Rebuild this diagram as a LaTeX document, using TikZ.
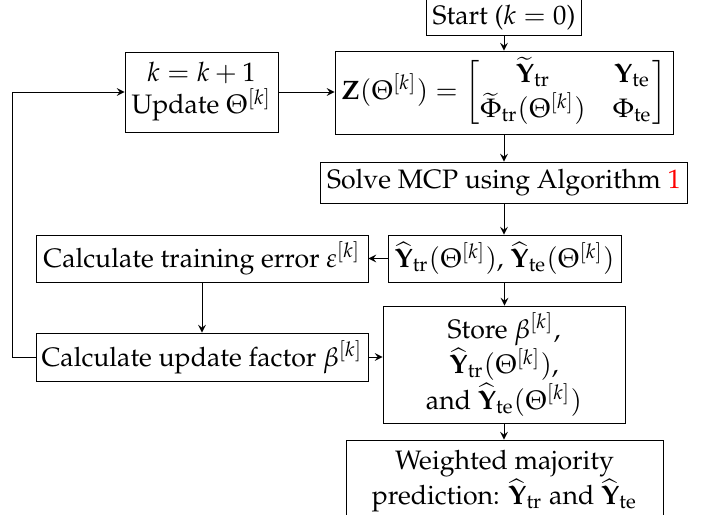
\documentclass[tikz,border=0pt]{standalone}
\usepackage[T1]{fontenc}
\usepackage{amsmath}
\usepackage{mathpazo}
\usetikzlibrary{arrows}
\newcommand{\Yh}{\widehat{\mathbf{Y}}}
\begin{document}
\begin{tikzpicture}[x=0.375pt,y=-0.375pt,
  box/.style={draw,align=center,inner sep=0pt,line width=0.3pt},
  arr/.style={-stealth,line width=0.3pt}]
\useasboundingbox (0,0) rectangle (704,515);
\node[box,minimum width=58.1pt,minimum height=13.5pt] (start) at (504,17.5) {Start ($k=0$)};
\node[box,minimum width=57.4pt,minimum height=30pt] (kbox) at (201.5,92) {$k=k+1$\\Update $\Theta^{[k]}$};
\node[box,minimum width=126.8pt,minimum height=31.1pt] (zbox) at (504,92.5)
  {$\mathbf{Z}(\Theta^{[k]})=\begin{bmatrix}\widetilde{\mathbf{Y}}_{\mathrm{tr}} & \mathbf{Y}_{\mathrm{te}}\\ \widetilde{\Phi}_{\mathrm{tr}}(\Theta^{[k]}) & \Phi_{\mathrm{te}}\end{bmatrix}$};
\node[box,minimum width=137.6pt,minimum height=15.4pt] (solve) at (504,182.5) {Solve MCP using Algorithm \textcolor{red}{1}};
\node[box,minimum width=87.4pt,minimum height=17.6pt] (yhat) at (504.5,258.5) {$\Yh_{\mathrm{tr}}(\Theta^{[k]})$, $\Yh_{\mathrm{te}}(\Theta^{[k]})$};
\node[box,minimum width=124.5pt,minimum height=17.6pt] (err) at (202,258.5) {Calculate training error $\varepsilon^{[k]}$};
\node[box,minimum width=124.5pt,minimum height=18pt] (beta) at (202,357) {Calculate update factor $\beta^{[k]}$};
\node[box,minimum width=90.75pt,minimum height=43.9pt] (store) at (504,364.5) {Store $\beta^{[k]}$,\\$\Yh_{\mathrm{tr}}(\Theta^{[k]})$,\\and $\Yh_{\mathrm{te}}(\Theta^{[k]})$};
\node[box,minimum width=118.9pt,minimum height=30.75pt] (wmp) at (504.5,481) {Weighted majority\\prediction: $\Yh_{\mathrm{tr}}$ and $\Yh_{\mathrm{te}}$};
\draw[arr] (start.south) -- (start.south |- zbox.north);
\draw[arr] (kbox.east) -- (kbox.east -| zbox.west);
\draw[arr] (zbox.south) -- (zbox.south |- solve.north);
\draw[arr] (solve.south) -- (solve.south |- yhat.north);
\draw[arr] (yhat.west) -- (yhat.west -| err.east);
\draw[arr] (err.south) -- (beta.north);
\draw[arr] (yhat.south) -- (yhat.south |- store.north);
\draw[arr] (beta.east) -- (beta.east -| store.west);
\draw[arr] (store.south) -- (store.south |- wmp.north);
\draw[arr] (beta.west) -- ++(-23,0) |- (kbox.west);
\end{tikzpicture}
\end{document}
